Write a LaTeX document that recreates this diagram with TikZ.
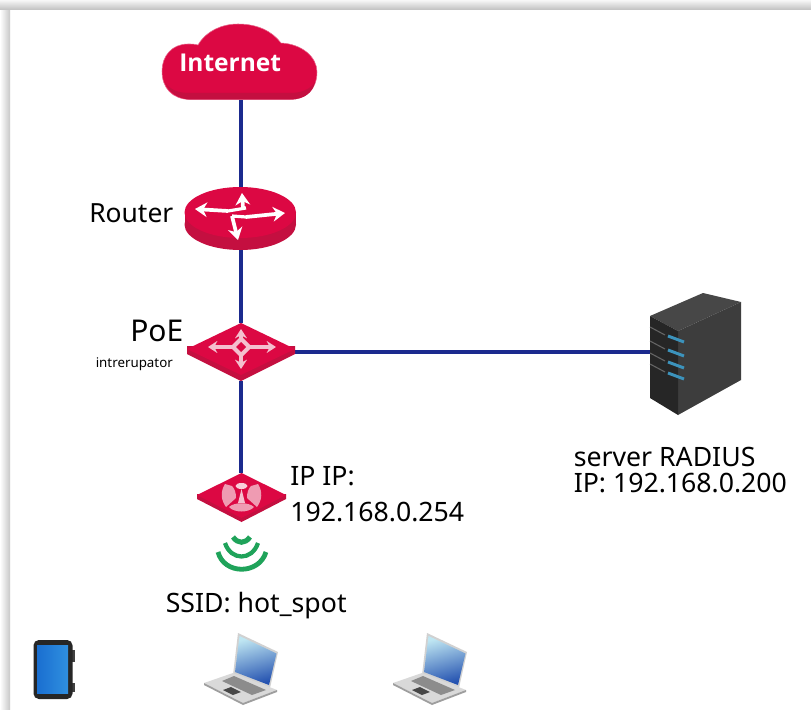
\documentclass[tikz,border=0pt]{standalone}
\usepackage{fontspec}
\setmainfont{Noto Sans}
\newfontfamily\boldface{Open Sans}
\usetikzlibrary{arrows.meta}
\definecolor{crim}{HTML}{DC0843}
\definecolor{crimside}{HTML}{C40F40}
\definecolor{crimedge}{HTML}{E8688C}
\definecolor{link}{HTML}{1B2A8E}
\definecolor{wifi}{HTML}{1FA35A}
\definecolor{pinkw}{HTML}{F4BFCE}
\definecolor{scrtop}{HTML}{BFE6F2}
\definecolor{scrmid}{HTML}{55ACDC}
\definecolor{scrbot}{HTML}{2452B0}
\definecolor{led}{HTML}{3C93BC}
\definecolor{tabl}{HTML}{1A6FD0}
\definecolor{tabr}{HTML}{2F8FE0}
\tikzset{
  anchorbox/.style={inner sep=0pt,outer sep=0pt,minimum width=#1},
  wire/.style={draw=link,line width=3pt},
  lbl/.style={anchor=base west,inner sep=0pt,text=black,font=\fontsize{20}{27}\selectfont},
  wave/.style={draw=wifi,line width=3.2pt},
  rarrow/.style={draw=white,line width=2.8pt,-{Stealth[length=9pt,width=11pt]}},
  sarrow/.style={draw=pinkw,line width=2.4pt,{Stealth[length=7pt,width=9pt]}-{Stealth[length=7pt,width=9pt]}},
  laptop/.pic={
    % lid
    \fill[black!18] (34,0) -- (74,19) -- (66,55) -- (29,42) -- cycle;
    \shade[top color=scrtop,middle color=scrmid,bottom color=scrbot,shading angle=15]
      (35.5,3) -- (72.5,20.5) -- (65,52) -- (31,39) -- cycle;
    % base
    \fill[black!15] (0,50) -- (29,40) -- (73,57) -- (39,70) -- cycle;
    \fill[black!38] (0,50) -- (39,70) -- (73,57) -- (73,59) -- (39,72) -- (0,52) -- cycle;
    \fill[black!45] (18,48) -- (30,43) -- (62,57) -- (48,62) -- cycle;
    \fill[black!72] (19,57) -- (27,54) -- (37,59) -- (29,62) -- cycle;
  }
}
\begin{document}
\begin{tikzpicture}[x=0.75pt,y=-0.75pt]
\useasboundingbox (0,0) rectangle (811,710);
\fill[white] (0,0) rectangle (811,710);
% page shadow
\shade[left color=white,right color=black!22] (0,0) rectangle (10,710);
\shade[top color=black!3,bottom color=black!24] (0,0) rectangle (811,9.5);

% named anchors
\node[anchorbox=116pt,minimum height=57pt] (internet) at (240.5,62) {};
\node[anchorbox=84pt,minimum height=47pt] (router) at (240.5,218.5) {};
\node[anchorbox=81pt,minimum height=43.5pt] (switch) at (240.5,352) {};
\node[anchorbox=67pt,minimum height=37pt] (ap) at (240.5,497.5) {};
\node[anchorbox=68pt,minimum height=92pt] (server) at (695.5,352) {};

% connectors
\draw[wire] (internet.south) -- (router.north);
\draw[wire] (router.south) -- (switch.north);
\draw[wire] (switch.south) -- (ap.north);
\draw[wire] (switch.east) -- (server.west);

% cloud
\fill[crim,draw=crimedge,line width=.4pt]
  (190,99.5)
  .. controls (172,99) and (162,88) .. (162,71)
  .. controls (162,56) and (172,44) .. (188,44)
  .. controls (192,44) and (194,44) .. (198,45)
  .. controls (206,31) and (222,24) .. (238,24)
  .. controls (257,24) and (272,31) .. (281,43)
  .. controls (302,44) and (317,57) .. (317,72)
  .. controls (317,90) and (305,99.5) .. (290,99.5)
  -- cycle;
\fill[crimside] (165,82) .. controls (170,94) and (180,99) .. (190,99.5)
  -- (290,99.5) .. controls (305,99.5) and (313,92) .. (315,82)
  .. controls (310,90) and (300,93) .. (290,93) -- (190,93)
  .. controls (178,93) and (170,90) .. (165,82) -- cycle;
\node[anchor=base west,inner sep=0pt,text=white,font=\boldface\fontsize{18.4}{22}\selectfont\bfseries] (internetlbl) at (179,71.5) {Internet};

% router
\fill[crimside] (240.25,224.5) ellipse[x radius=55.75,y radius=25.5];
\fill[crimside] (184.5,212.5) rectangle (296,224.5);
\fill[crim] (240.25,212.5) ellipse[x radius=55.75,y radius=25.5];
\draw[rarrow] (228,211) -- (195,209);
\draw[rarrow] (246,217) -- (285,213);
\draw[rarrow] (243,208) -- (242,193);
\draw[rarrow] (232,216) -- (238,240);
\draw[white,line width=2.4pt] (228,211) -- (246,208);
\draw[white,line width=2.4pt] (232,216) -- (246,217);

% switch
\fill[crimside] (187,346) -- (187,354) -- (241,381) -- (295,354) -- (295,346) -- cycle;
\fill[crim] (241,323) -- (295,349) -- (241,375) -- (187,349) -- cycle;
\draw[sarrow] (241,329) -- (241,369);
\draw[sarrow] (208,347) -- (276,347);
\fill[pinkw] (241,336) -- (252,347) -- (241,358) -- (230,347) -- cycle;
\fill[crim] (241,342) -- (246,347) -- (241,352) -- (236,347) -- cycle;

% access point
\fill[crimside] (197,494) -- (197,499) -- (241.5,522) -- (286,499) -- (286,494) -- cycle;
\fill[crim] (241.5,473) -- (286,495) -- (241.5,518) -- (197,495) -- cycle;
\fill[white!80!crim] (241.5,486) ellipse[x radius=6,y radius=3];
\fill[pinkw] (241.5,489) -- (245,503) -- (238,503) -- cycle;
\fill[pinkw!80!crim] (225,484) .. controls (220,492) and (221,500) .. (226,507) -- (236,498) .. controls (236,493) and (235,489) .. (232,486) -- cycle;
\fill[pinkw!80!crim] (258,484) .. controls (263,492) and (262,500) .. (257,507) -- (247,498) .. controls (247,493) and (248,489) .. (251,486) -- cycle;
\fill[pinkw!80!crim] (229,507) .. controls (234,502) and (249,502) .. (254,507) .. controls (249,513) and (234,513) .. (229,507) -- cycle;

% wifi waves
\draw[wave,line width=3.6pt] (218,552) .. controls (224,575) and (259,575) .. (266,552);
\draw[wave] (225,543) .. controls (231,561) and (252,561) .. (258,543);
\draw[wave,line width=3.8pt] (233,537) .. controls (238,544) and (245,544) .. (250,537);

% server
\fill[black!72] (650,316) -- (703,293) -- (741,302) -- (678,331) -- cycle;
\fill[black!76] (678,331) -- (741,302) -- (741,380) -- (678,415) -- cycle;
\fill[black!85] (650,316) -- (678,331) -- (678,415) -- (650,398) -- cycle;
\foreach \yy in {336,350,362,373}{
  \draw[led,line width=2.2pt] (668,\yy) -- (684,\yy+6);
  \draw[black!60,line width=.8pt] (650,\yy-9) -- (665,\yy-1);
}

% tablet
\fill[black!75] (72,650) rectangle (74.5,662);
\fill[black!75] (72,683) rectangle (74.5,692);
\fill[black!85,rounded corners=4pt] (33.5,640) rectangle (72.5,699);
\shade[left color=tabl,right color=tabr] (37,645) rectangle (68,693);

% laptops
\pic at (204,633) {laptop};
\pic at (393,633) {laptop};

% labels
\node[lbl,font=\fontsize{19.8}{24}\selectfont] (routerlbl) at (89,222) {Router};
\node[lbl,font=\fontsize{22.5}{27}\selectfont] (poelbl) at (130,341) {PoE};
\node[lbl,font=\fontsize{10}{12}\selectfont] (intlbl) at (95.5,367) {intrerupator};
\node[anchor=north west,inner sep=0pt,align=left,font=\fontsize{20}{27}\selectfont] (iplbl) at (290,466) {IP IP:\\192.168.0.254};
\node[anchor=north west,inner sep=0pt,align=left,font=\fontsize{20}{19.5}\selectfont] (srvlbl) at (573.5,447) {server RADIUS\\IP: 192.168.0.200};
\node[lbl] (ssidlbl) at (165.5,612) {SSID: hot\_spot};
\end{tikzpicture}
\end{document}
